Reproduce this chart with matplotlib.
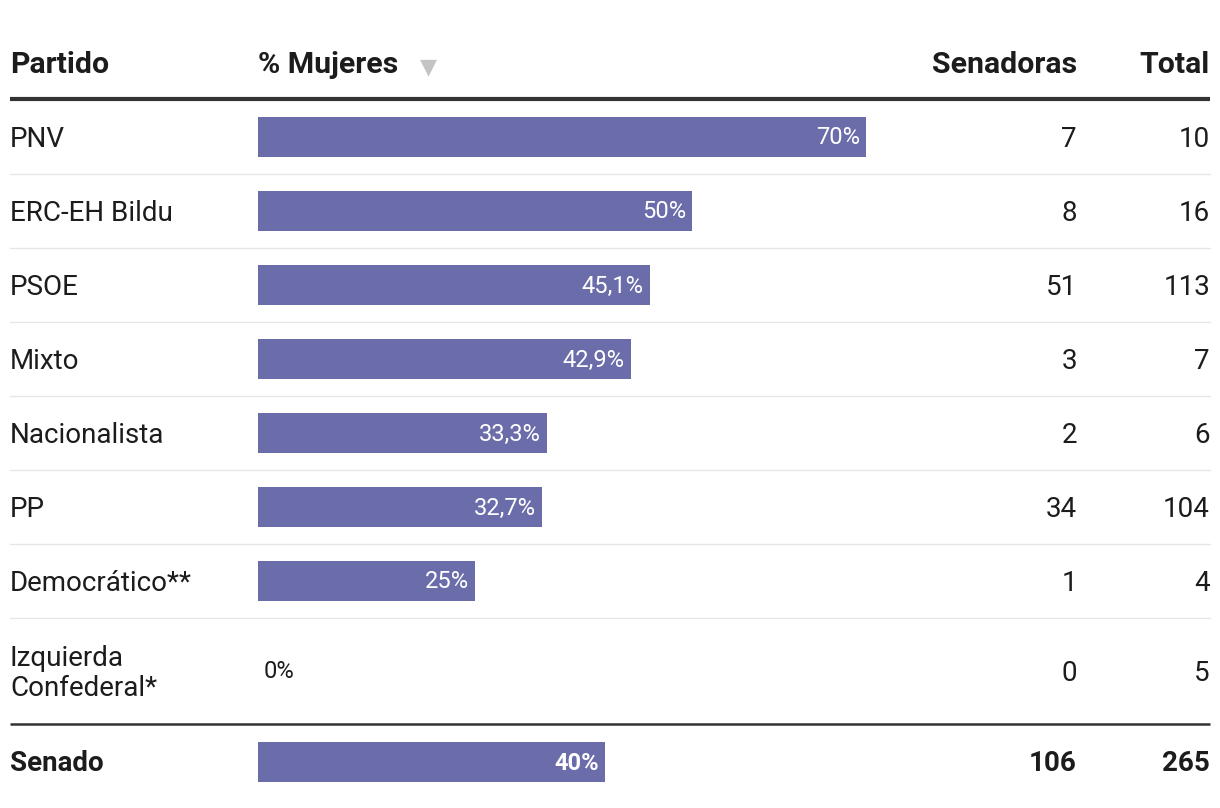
import matplotlib.pyplot as plt

# datos de la tabla
partidos = ['PNV', 'ERC-EH Bildu', 'PSOE', 'Mixto', 'Nacionalista', 'PP',
            'Democrático**', 'Izquierda\nConfederal*']
pct_mujeres = [70, 50, 45.1, 42.9, 33.3, 32.7, 25, 0]
senadoras = [7, 8, 51, 3, 2, 34, 1, 0]
totales = [10, 16, 113, 7, 6, 104, 4, 5]

total_nombre = 'Senado'
total_pct = 40
total_senadoras = 106
total_total = 265

cabeceras = ['Partido', '% Mujeres', 'Senadoras', 'Total']

# estilo
color_barra = '#6b6caa'
color_texto = '#1c1c1c'
color_gris = '#e6e6e6'
fuente = ['Roboto', 'DejaVu Sans']
plt.rcParams['font.family'] = fuente

W, H = 1220, 808
fig = plt.figure(figsize=(W / 100, H / 100), dpi=100)
ax = fig.add_axes([0, 0, 1, 1])
ax.set_xlim(0, W)
ax.set_ylim(H, 0)
ax.axis('off')

# geometria (px)
x_izq, x_der = 10, 1210
x_barra = 258
ancho_70 = 608  # 70% ocupa 608 px
px_por_pct = ancho_70 / max(pct_mujeres)
x_senadoras = 1077
x_total = 1210
alto_fila = 74
y_cab = 65
y_linea_cab = 99
y_fila0 = 138
alto_barra = 40
dy_txt = 1.5  # el texto queda algo mas bajo que el centro de la barra

fs_cab = 21.8
fs = 20
fs_lab = 17


def fmt(v):
    s = f'{v:g}'.replace('.', ',')
    return s + '%'


# cabecera
ax.text(x_izq, y_cab, cabeceras[0], fontsize=fs_cab, fontweight='bold', color=color_texto, va='center')
ax.text(x_barra, y_cab, cabeceras[1], fontsize=fs_cab, fontweight='bold', color=color_texto, va='center')
ax.text(428, y_cab + 2, '▼', fontsize=16, color='#c4c4c4', va='center', ha='center',
        family=['DejaVu Sans'])
ax.text(x_senadoras, y_cab, cabeceras[2], fontsize=fs_cab, fontweight='bold', color=color_texto,
        va='center', ha='right')
ax.text(x_total, y_cab, cabeceras[3], fontsize=fs_cab, fontweight='bold', color=color_texto,
        va='center', ha='right')
ax.plot([x_izq, x_der], [y_linea_cab, y_linea_cab], color='#333333', lw=3, solid_capstyle='butt')

# filas
centros = []
for i in range(len(partidos)):
    if i < len(partidos) - 1:
        centros.append(y_fila0 + i * alto_fila)
    else:
        centros.append(y_fila0 + (i - 1) * alto_fila + 90)

for i, (p, v, s, t) in enumerate(zip(partidos, pct_mujeres, senadoras, totales)):
    yc = centros[i]
    ax.text(x_izq, yc + dy_txt, p, fontsize=fs, color=color_texto, va='center', linespacing=1.1)
    ax.barh(yc - 1, v * px_por_pct, left=x_barra, height=alto_barra, color=color_barra)
    if v > 0:
        ax.text(x_barra + v * px_por_pct - 6, yc, fmt(v), fontsize=fs_lab, color='white',
                va='center', ha='right')
    else:
        ax.text(x_barra + 6, yc, fmt(v), fontsize=fs_lab, color=color_texto, va='center', ha='left')
    ax.text(x_senadoras, yc + dy_txt, str(s), fontsize=fs, color=color_texto, va='center', ha='right')
    ax.text(x_total, yc + dy_txt, str(t), fontsize=fs, color=color_texto, va='center', ha='right')
    if i < len(partidos) - 1:
        y_sep = yc - 1 + alto_fila / 2
        ax.plot([x_izq, x_der], [y_sep, y_sep], color=color_gris, lw=1)

# fila total
y_linea_total = 724
ax.plot([x_izq, x_der], [y_linea_total, y_linea_total], color='#333333', lw=1.8, solid_capstyle='butt')
yc = 762
ax.text(x_izq, yc + dy_txt, total_nombre, fontsize=fs, fontweight='bold', color=color_texto, va='center')
ax.barh(yc, total_pct * px_por_pct, left=x_barra, height=alto_barra, color=color_barra)
ax.text(x_barra + total_pct * px_por_pct - 6, yc + 1, fmt(total_pct), fontsize=fs_lab, fontweight='bold',
        color='white', va='center', ha='right')
ax.text(x_senadoras, yc + dy_txt, str(total_senadoras), fontsize=fs, fontweight='bold', color=color_texto,
        va='center', ha='right')
ax.text(x_total, yc + dy_txt, str(total_total), fontsize=fs, fontweight='bold', color=color_texto,
        va='center', ha='right')

fig.savefig('out.png', dpi=100, facecolor='white')
